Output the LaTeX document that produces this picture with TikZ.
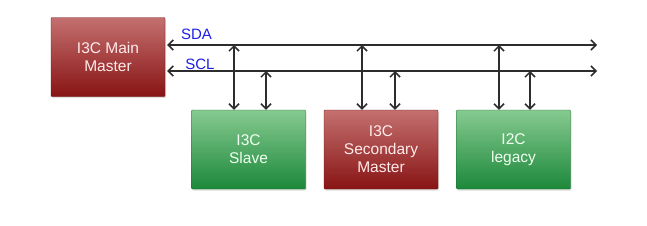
\documentclass[tikz,border=0pt]{standalone}
\usepackage{fontspec}
\setmainfont{Liberation Sans}
\usetikzlibrary{arrows.meta,shadows}

\definecolor{redtop}{RGB}{196,112,112}
\definecolor{redbot}{RGB}{136,20,20}
\definecolor{greentop}{RGB}{134,202,144}
\definecolor{greenbot}{RGB}{28,136,58}
\definecolor{wire}{RGB}{45,45,45}
\definecolor{buslabel}{RGB}{30,30,230}

\tikzset{
  unit/.style={minimum width=114pt, minimum height=79pt, inner sep=2pt,
    align=center, font=\fontsize{15.5}{18}\selectfont, rounded corners=0.8pt,
    drop shadow={opacity=0.25, shadow xshift=1pt, shadow yshift=-1.5pt}},
  redunit/.style={unit, top color=redtop, bottom color=redbot,
    draw=redbot!80!black, text=red!8!white},
  greenunit/.style={unit, top color=greentop, bottom color=greenbot,
    draw=greenbot!80!black, text=green!6!white},
  wirearrow/.style={draw=wire, line width=1.5pt,
    {Straight Barb[length=5pt,width=10pt]}-{Straight Barb[length=5pt,width=10pt]}},
  busname/.style={text=buslabel, font=\fontsize{15}{16}\selectfont, inner sep=0pt}
}

\begin{document}
\begin{tikzpicture}[x=1pt,y=-1pt]
\useasboundingbox (0,0) rectangle (647,225);

\node[redunit] (master) at (108,57) {I3C Main\\Master};
\node[greenunit] (slave) at (248.5,149.5) {I3C\\Slave};
\node[redunit] (second) at (381,149.5) {I3C\\Secondary\\Master};
\node[greenunit] (legacy) at (513.5,149.5) {I2C\\legacy};

\coordinate (sdaR) at (597,45);
\coordinate (sclR) at (597,71);

% bus lines
\draw[wirearrow] ([xshift=2pt]master.east |- sdaR) -- (sdaR);
\draw[wirearrow] ([xshift=2pt]master.east |- sclR) -- (sclR);
\node[busname] (sda) at (196.5,34) {SDA};
\node[busname] (scl) at (200,64) {SCL};

% taps to the devices
\draw[wirearrow] ([xshift=-14.5pt]slave.north |- sdaR) -- ([xshift=-14.5pt]slave.north);
\draw[wirearrow] ([xshift=17.5pt]slave.north |- sclR) -- ([xshift=17.5pt]slave.north);
\draw[wirearrow] ([xshift=-19pt]second.north |- sdaR) -- ([xshift=-19pt]second.north);
\draw[wirearrow] ([xshift=14pt]second.north |- sclR) -- ([xshift=14pt]second.north);
\draw[wirearrow] ([xshift=-14.5pt]legacy.north |- sdaR) -- ([xshift=-14.5pt]legacy.north);
\draw[wirearrow] ([xshift=16.5pt]legacy.north |- sclR) -- ([xshift=16.5pt]legacy.north);
\end{tikzpicture}
\end{document}
